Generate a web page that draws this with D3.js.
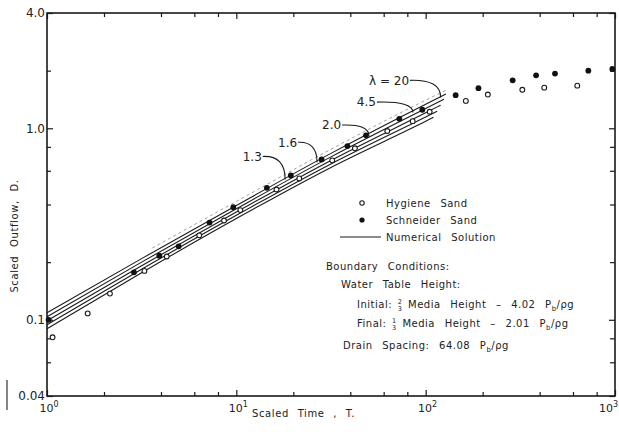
<!DOCTYPE html>
<html>
<head>
<meta charset="utf-8">
<script src="https://cdn.jsdelivr.net/npm/d3@7"></script>
<style>
body { margin: 0; background: #fff; }
svg { display: block; font-family: "DejaVu Sans", sans-serif; fill: #222; }
</style>
</head>
<body>
<svg></svg>
<script>

// axis ticks
const xMajor = [1, 10, 100, 1000]
const xMajorExp = ['0', '1', '2', '3']
const xMinor = [2, 4, 6, 8, 20, 40, 60, 80, 200, 400, 600, 800]
const yMajor = [4, 1, 0.1, 0.04]
const yMajorLabels = ['4.0', '1.0', '0.1', '0.04']
const yMinor = [2, 0.8, 0.6, 0.4, 0.2, 0.08, 0.06]

// measured points
const hygieneT = [1.07, 1.64, 2.15, 3.27, 4.29, 6.37, 8.61, 10.5, 16.3, 21.5, 32.1, 42.3, 62.7, 85.4, 105, 163, 213, 324, 423, 632]
const hygieneD = [0.081, 0.108, 0.137, 0.180, 0.214, 0.276, 0.330, 0.374, 0.479, 0.547, 0.680, 0.786, 0.968, 1.09, 1.22, 1.39, 1.50, 1.59, 1.63, 1.67]
const schneiderT = [1.02, 2.88, 3.92, 4.96, 7.22, 9.64, 14.5, 19.4, 28.2, 38.6, 48.4, 72.6, 96.0, 144, 190, 288, 383, 482, 723, 968]
const schneiderD = [0.100, 0.177, 0.216, 0.242, 0.322, 0.387, 0.489, 0.567, 0.688, 0.808, 0.919, 1.12, 1.25, 1.49, 1.62, 1.78, 1.89, 1.93, 2.00, 2.04]

// numerical solution curves (last value is at the curve's end time)
const solT = [1, 3.16, 10, 31.6, 100]
const solEndT = [128, 125, 120, 115, 110]
const sol20 = [0.1088, 0.2087, 0.3953, 0.7397, 1.336, 1.511]
const sol45 = [0.1037, 0.2000, 0.3801, 0.7091, 1.269, 1.419]
const sol2 = [0.0988, 0.1917, 0.3655, 0.6798, 1.206, 1.321]
const sol16 = [0.0942, 0.1837, 0.3514, 0.6517, 1.146, 1.228]
const sol13 = [0.0897, 0.1762, 0.3379, 0.6249, 1.088, 1.141]

// faint dashed trace above the band
const dashT = [3.6, 10, 31.6, 100, 128]
const dashD = [0.237, 0.415, 0.777, 1.402, 1.58]

// lambda labels and their leader curves
const annText = ['λ = 20', '4.5', '2.0', '1.6', '1.3']
const annFromT = [82.7, 55.3, 36.2, 21.2, 13.8]
const annFromD = [1.78, 1.37, 1.04, 0.845, 0.713]
const annToT = [120, 85.7, 50.2, 26.7, 18.1]
const annToD = [1.45, 1.21, 0.908, 0.664, 0.541]

let width = 619
let height = 432

let svg = d3.select('svg')
svg.attr('width', width).attr('height', height)

let xScale = d3.scaleLog().domain([1, 1000]).range([47, 615])
let yScale = d3.scaleLog().domain([0.04, 4]).range([396, 13])

let drawAxes = () => {
    let ink = '#1a1a1a'
    let bottom = yScale.range()[0], top = yScale.range()[1]
    let left = xScale.range()[0], right = xScale.range()[1]

    // ticks on all four sides, pointing in
    let addAxis = (axis, tx, ty) => {
        let g = svg.append('g').attr('transform', 'translate(' + tx + ',' + ty + ')').call(axis)
        g.select('.domain').remove()
        g.selectAll('line').attr('stroke', ink).attr('stroke-width', 1.2)
    }
    addAxis(d3.axisBottom(xScale).tickValues(xMinor).tickSize(-4).tickFormat(''), 0, bottom)
    addAxis(d3.axisBottom(xScale).tickValues(xMajor).tickSize(-6).tickFormat(''), 0, bottom)
    addAxis(d3.axisTop(xScale).tickValues(xMinor).tickSize(-4).tickFormat(''), 0, top)
    addAxis(d3.axisTop(xScale).tickValues(xMajor).tickSize(-6).tickFormat(''), 0, top)
    addAxis(d3.axisLeft(yScale).tickValues(yMinor).tickSize(-4).tickFormat(''), left, 0)
    addAxis(d3.axisLeft(yScale).tickValues(yMajor).tickSize(-6).tickFormat(''), left, 0)
    addAxis(d3.axisRight(yScale).tickValues(yMinor).tickSize(-5).tickFormat(''), right, 0)
    addAxis(d3.axisRight(yScale).tickValues(yMajor).tickSize(-6).tickFormat(''), right, 0)

    // frame
    svg.append('rect')
        .attr('x', left).attr('y', top)
        .attr('width', right - left).attr('height', bottom - top)
        .attr('fill', 'none').attr('stroke', ink).attr('stroke-width', 1.6)

    // y labels
    svg.selectAll('.ylab')
        .data(yMajor)
        .enter()
        .append('text')
        .attr('class', 'ylab')
        .attr('x', left - 2)
        .attr('y', d => yScale(d))
        .attr('dy', '0.36em')
        .attr('text-anchor', 'end')
        .attr('font-size', 12)
        .text((d, i) => yMajorLabels[i])

    // x labels with exponents (last one kept inside the page)
    let xl = svg.selectAll('.xlab')
        .data(xMajor)
        .enter()
        .append('text')
        .attr('class', 'xlab')
        .attr('x', (d, i) => i == xMajor.length - 1 ? width - 1 : xScale(d) + 2)
        .attr('y', 412)
        .attr('text-anchor', (d, i) => i == xMajor.length - 1 ? 'end' : 'middle')
        .attr('font-size', 11)
    xl.append('tspan').text('10')
    xl.append('tspan').attr('dy', -5).attr('font-size', 8).text((d, i) => xMajorExp[i])

    // axis titles
    svg.append('text')
        .attr('x', 252).attr('y', 417)
        .attr('font-size', 10).attr('letter-spacing', 0.6).attr('word-spacing', 5)
        .text('Scaled Time , T.')
    svg.append('text')
        .attr('transform', 'translate(18,236) rotate(-90)')
        .attr('text-anchor', 'middle')
        .attr('font-size', 10).attr('letter-spacing', 0.6).attr('word-spacing', 5)
        .text('Scaled Outflow, D.')

    // stray mark at the lower left of the scan
    svg.append('line')
        .attr('x1', 7).attr('x2', 7).attr('y1', 380).attr('y2', 410)
        .attr('stroke', '#333').attr('stroke-width', 1.2)
}

let drawLines = () => {
    let line = d3.line()
        .x(d => xScale(d[0]))
        .y(d => yScale(d[1]))
        .curve(d3.curveMonotoneX)

    let sets = [sol20, sol45, sol2, sol16, sol13]
    sets.forEach((vals, i) => {
        let pts = solT.concat([solEndT[i]]).map((t, j) => [t, vals[j]])
        svg.append('path')
            .datum(pts)
            .attr('d', line)
            .attr('fill', 'none')
            .attr('stroke', '#1a1a1a')
            .attr('stroke-width', 1.1)
    })

    svg.append('path')
        .datum(dashT.map((t, j) => [t, dashD[j]]))
        .attr('d', line)
        .attr('fill', 'none')
        .attr('stroke', '#888')
        .attr('stroke-width', 0.8)
        .attr('stroke-dasharray', '3,3')
}

let drawPoints = () => {
    svg.selectAll('.hyg')
        .data(hygieneT)
        .enter()
        .append('circle')
        .attr('class', 'hyg')
        .attr('cx', d => xScale(d))
        .attr('cy', (d, i) => yScale(hygieneD[i]))
        .attr('r', 2.4)
        .attr('fill', '#fff')
        .attr('stroke', '#1a1a1a')
        .attr('stroke-width', 1.1)

    svg.selectAll('.sch')
        .data(schneiderT)
        .enter()
        .append('circle')
        .attr('class', 'sch')
        .attr('cx', d => xScale(d))
        .attr('cy', (d, i) => yScale(schneiderD[i]))
        .attr('r', 2.9)
        .attr('fill', '#111')
}

let drawAnnotations = () => {
    annText.forEach((txt, i) => {
        let x0 = xScale(annFromT[i]), y0 = yScale(annFromD[i])
        let x1 = xScale(annToT[i]), y1 = yScale(annToD[i])
        svg.append('path')
            .attr('d', 'M' + x0 + ',' + y0 + ' Q' + x1 + ',' + (y0 - 1) + ' ' + x1 + ',' + y1)
            .attr('fill', 'none')
            .attr('stroke', '#1a1a1a')
            .attr('stroke-width', 1.1)
        svg.append('text')
            .attr('x', x0 - 1)
            .attr('y', y0)
            .attr('dy', '0.36em')
            .attr('text-anchor', 'end')
            .attr('font-size', 12)
            .text(txt)
    })
}

let drawLegend = () => {
    let fs = 10
    let tx = 386
    let g = svg.append('g').attr('font-size', fs).attr('letter-spacing', 0.5).attr('word-spacing', 6)

    g.append('circle').attr('cx', 362).attr('cy', 203).attr('r', 2.2)
        .attr('fill', '#fff').attr('stroke', '#1a1a1a').attr('stroke-width', 1.1)
    g.append('text').attr('x', tx).attr('y', 207).text('Hygiene Sand')

    g.append('circle').attr('cx', 362).attr('cy', 220).attr('r', 2.6).attr('fill', '#111')
    g.append('text').attr('x', tx).attr('y', 224).text('Schneider Sand')

    g.append('line').attr('x1', 340).attr('x2', 381).attr('y1', 237).attr('y2', 237)
        .attr('stroke', '#1a1a1a').attr('stroke-width', 1.1)
    g.append('text').attr('x', tx).attr('y', 241).text('Numerical Solution')

    g.append('text').attr('x', 326).attr('y', 270).text('Boundary Conditions:')
    g.append('text').attr('x', 341).attr('y', 288).text('Water Table Height:')

    // stacked small fraction as its own pair of texts, then the rest of the line
    let frac = (y, label, num, den, rest) => {
        let lab = g.append('text').attr('x', 357).attr('y', y).text(label)
        let fx = 357 + lab.node().getComputedTextLength() + 8
        g.append('text').attr('x', fx).attr('y', y - 4.5).attr('font-size', 6.5)
            .attr('text-anchor', 'middle').text(num)
        g.append('text').attr('x', fx).attr('y', y + 2.5).attr('font-size', 6.5)
            .attr('text-anchor', 'middle').text(den)
        let t = g.append('text').attr('x', fx + 8).attr('y', y)
        t.append('tspan').text(rest)
        t.append('tspan').attr('font-size', 7).attr('dy', 3).text('b')
        t.append('tspan').attr('dy', -3).text('/ρg')
    }
    frac(308, 'Initial:', '2', '3', 'Media Height – 4.02 P')
    frac(327, 'Final:', '1', '3', 'Media Height – 2.01 P')

    let d = g.append('text').attr('x', 343).attr('y', 349)
    d.append('tspan').text('Drain Spacing: 64.08 P')
    d.append('tspan').attr('font-size', 7).attr('dy', 3).text('b')
    d.append('tspan').attr('dy', -3).text('/ρg')
}

drawAxes()
drawLines()
drawPoints()
drawAnnotations()
drawLegend()

</script>
</body>
</html>
